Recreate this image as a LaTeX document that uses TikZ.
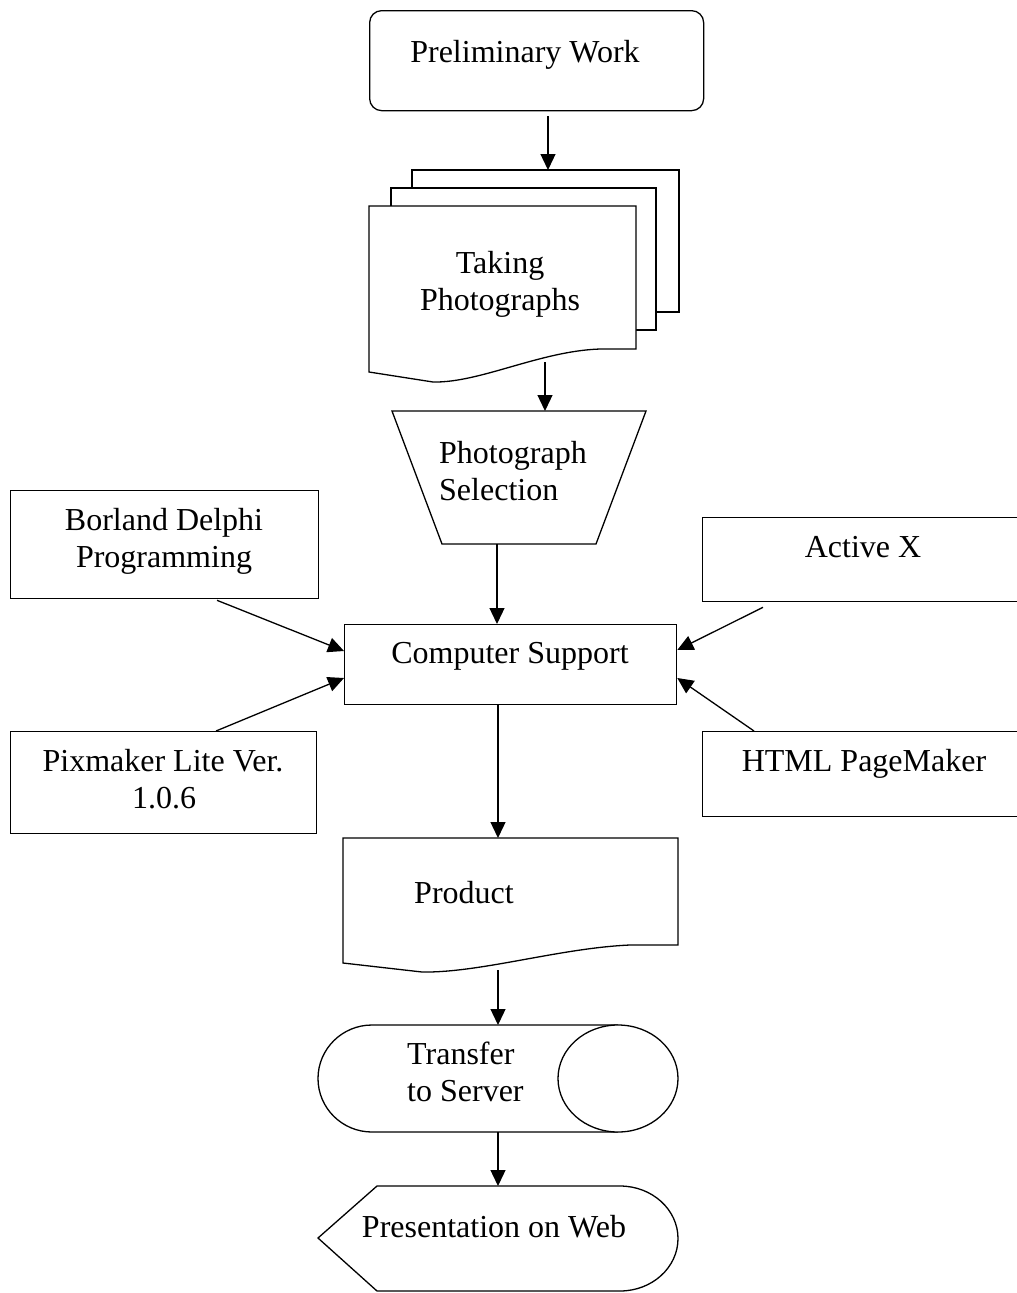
\documentclass[tikz,border=0pt]{standalone}
\usepackage{fontspec}
\setmainfont{Liberation Serif}
\usetikzlibrary{arrows.meta}
\begin{document}
\begin{tikzpicture}[x=1pt,y=-1pt,
  shp/.style={draw,line width=1.3pt,fill=white},
  box/.style={draw,line width=1.3pt,rectangle,inner sep=0pt,anchor=north west},
  txt/.style={font=\fontsize{32}{37}\selectfont,inner sep=0pt},
  arr/.style={line width=1.3pt,-{Triangle[length=16pt,width=15pt]}}]
\useasboundingbox (0,0) rectangle (1017,1293);
\begin{scope}
\clip (0,0) rectangle (1017,1293);
% Preliminary Work
\node[box,rounded corners=12pt,minimum width=334pt,minimum height=100pt] (prelim) at (369,10) {};
\node[txt,anchor=base] (prelimT) at (525,62) {Preliminary Work};
% Multi-document
\draw[shp] (412,206) -- (412,170) -- (679,170) -- (679,312) -- (656,312);
\draw[shp] (391,206) -- (391,188) -- (656,188) -- (656,330) -- (636,330);
\draw[shp] (369,206) -- (636,206) -- (636,349) -- (600,349)
  .. controls (540,351) and (480,383) .. (433,382) -- (369,372) -- cycle;
\coordinate (photoTop) at (548,170);
\coordinate (photoBot) at (545,362);
\node[txt,anchor=base] (takT1) at (500,273) {Taking};
\node[txt,anchor=base] (takT2) at (500,310) {Photographs};
% Trapezoid
\draw[shp] (392,411) -- (646,411) -- (596,544) -- (442,544) -- cycle;
\coordinate (selTop) at (545,411);
\coordinate (selBot) at (497,544);
\node[txt,anchor=base west] (selT1) at (439,463) {Photograph};
\node[txt,anchor=base west] (selT2) at (439,500) {Selection};
% Computer Support
\node[box,minimum width=332pt,minimum height=80pt] (cs) at (344,624) {};
\node[txt,anchor=base] (csT) at (510,663) {Computer Support};
% Side boxes
\node[box,minimum width=308pt,minimum height=108pt] (borland) at (10,490) {};
\node[txt,anchor=base] (borT1) at (164,530) {Borland Delphi};
\node[txt,anchor=base] (borT2) at (164,567) {Programming};
\node[box,minimum width=340pt,minimum height=84pt] (activex) at (702,517) {};
\node[txt,anchor=base] (axT) at (863,557) {Active X};
\node[box,minimum width=306pt,minimum height=102pt] (pix) at (10,731) {};
\node[txt,anchor=base] (pixT1) at (163,771) {Pixmaker Lite Ver.};
\node[txt,anchor=base] (pixT2) at (164,808) {1.0.6};
\node[box,minimum width=340pt,minimum height=85pt] (html) at (702,731) {};
\node[txt,anchor=base] (htmlT) at (864,771) {HTML PageMaker};
% Product document
\draw[shp] (343,838) -- (678,838) -- (678,945) -- (630,945)
  .. controls (560,948) and (480,973) .. (422,972) -- (343,963) -- cycle;
\coordinate (prodTop) at (498,838);
\coordinate (prodBot) at (498,970);
\node[txt,anchor=base] (prodT) at (464,903) {Product};
% Transfer cylinder
\draw[shp] (618,1025) -- (372,1025) arc[start angle=-90,end angle=-270,x radius=54,y radius=53.5] -- (618,1132);
\draw[shp] (618,1078.5) ellipse[x radius=60,y radius=53.5];
\coordinate (trTop) at (498,1025);
\coordinate (trBot) at (498,1132);
\node[txt,anchor=base west] (trT1) at (407,1064) {Transfer};
\node[txt,anchor=base west] (trT2) at (407,1101) {to Server};
% Display
\draw[shp] (318,1238) -- (377,1186) -- (620,1186) arc[start angle=-90,end angle=90,x radius=58,y radius=52.5] -- (377,1291) -- cycle;
\coordinate (dispTop) at (498,1186);
\node[txt,anchor=base] (dispT) at (494,1237) {Presentation on Web};
% Connectors
\draw[arr] (prelim.south -| photoTop) ++(0,5) -- (photoTop);
\draw[arr] (photoBot) -- (selTop);
\draw[arr] (selBot) -- (cs.north -| selBot);
\draw[arr] (borland.south west) ++(207,1) -- (cs.west |- 0,651);
\draw[arr] (pix.north west) ++(206,0) -- (cs.west |- 0,678);
\draw[arr] (activex.south west) ++(61,5) -- (cs.east |- 0,650);
\draw[arr] (html.north west) ++(52,0) -- (cs.east |- 0,678);
\draw[arr] (cs.south -| prodTop) -- (prodTop);
\draw[arr] (prodBot) -- (trTop);
\draw[arr] (trBot) -- (dispTop);
\end{scope}
\end{tikzpicture}
\end{document}
